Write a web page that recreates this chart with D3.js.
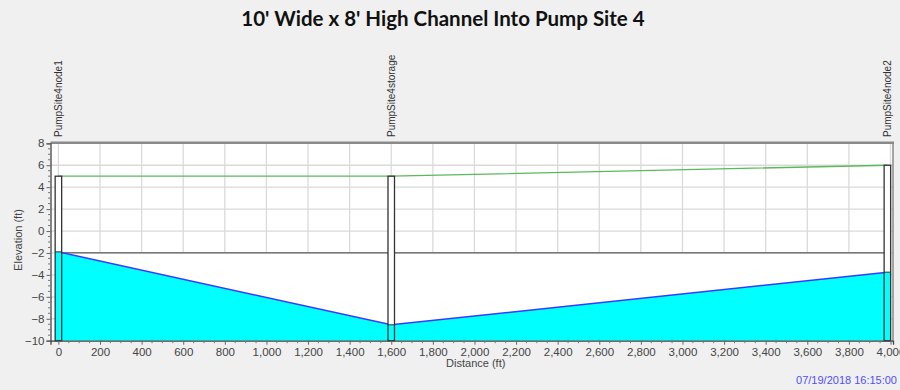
<!DOCTYPE html>
<html><head><meta charset="utf-8">
<script src="https://cdn.jsdelivr.net/npm/d3@7"></script>
<style>
html,body{margin:0;padding:0;background:#f0f0f0;}
svg{display:block;}
</style></head>
<body>
<svg id="c" width="900" height="390"></svg>
<script>
// ---- data ----
const title = "10' Wide x 8' High Channel Into Pump Site 4";
const nodeNames = ["PumpSite4node1", "PumpSite4storage", "PumpSite4node2"];
const nodeDist = [0, 1600, 3985];          // ft
const groundElev = [5.0, 5.0, 6.0];        // green line / node tops (ft)
const waterElev = [-1.9, -8.55, -3.75];    // blue line (ft)
const crownElev = [-2, -2, -2];            // dark horizontal line (ft)
const bottomElev = -10;
const xTicks = [0,200,400,600,800,1000,1200,1400,1600,1800,2000,2200,2400,2600,2800,3000,3200,3400,3600,3800,4000];
const yTicks = [-10,-8,-6,-4,-2,0,2,4,6,8];
const xLabel = "Distance (ft)";
const yLabel = "Elevation (ft)";
const stamp = "07/19/2018 16:15:00";

// ---- layout ----
const svg = d3.select("#c");
const L = 50.5, R = 893, T = 143.3, B = 340.7;
const x = d3.scaleLinear().domain([-38, 4012]).range([L, R]);
const y = d3.scaleLinear().domain([-10, 8]).range([B, T]);
const font = "'Liberation Sans', Arial, sans-serif";

svg.append("rect").attr("width",900).attr("height",390).attr("fill","#f0f0f0");

// title
svg.append("text").attr("x",443).attr("y",26).attr("text-anchor","middle")
  .attr("font-family","Lato, 'Open Sans', sans-serif").attr("font-weight","bold")
  .attr("font-size",20.5).attr("fill","#111").text(title);

// plot background
svg.append("rect").attr("x",L).attr("y",T).attr("width",R-L).attr("height",B-T).attr("fill","#ffffff");

// grid
const g = svg.append("g");
g.selectAll("line.gx").data(xTicks).join("line")
  .attr("x1",d=>x(d)).attr("x2",d=>x(d)).attr("y1",T).attr("y2",B)
  .attr("stroke","#dadada").attr("stroke-width",1.3);
g.selectAll("line.gy").data(yTicks).join("line")
  .attr("x1",L).attr("x2",R).attr("y1",d=>y(d)).attr("y2",d=>y(d))
  .attr("stroke","#dadada").attr("stroke-width",1.3);

// conduit interior (white) between crown and bottom
const idx = d3.range(nodeDist.length);
const interior = d3.area().x(i=>x(nodeDist[i])).y0(y(bottomElev)).y1(i=>y(crownElev[i]));
svg.append("path").datum(idx).attr("d",interior).attr("fill","#ffffff");

// water (cyan)
const water = d3.area().x(i=>x(nodeDist[i])).y0(y(bottomElev)).y1(i=>y(waterElev[i]));
svg.append("path").datum(idx).attr("d",water).attr("fill","#00ffff");

// crown line
const line = (arr)=>d3.line().x(i=>x(nodeDist[i])).y(i=>y(arr[i]));
svg.append("path").datum(idx).attr("d",line(crownElev)).attr("fill","none")
  .attr("stroke","#555").attr("stroke-width",1.3);
// green line
svg.append("path").datum(idx).attr("d",line(groundElev)).attr("fill","none")
  .attr("stroke","#5cb85c").attr("stroke-width",1.3);
// blue line
svg.append("path").datum(idx).attr("d",line(waterElev)).attr("fill","none")
  .attr("stroke","#3a3aff").attr("stroke-width",1.5);

// node boxes
const bw = 6.5;
const nodes = svg.append("g");
idx.forEach(i=>{
  const cx = x(nodeDist[i]);
  nodes.append("rect").attr("x",cx-bw/2).attr("y",y(groundElev[i])).attr("width",bw)
    .attr("height",y(bottomElev)-y(groundElev[i])).attr("fill","#ffffff");
  nodes.append("rect").attr("x",cx-bw/2).attr("y",y(waterElev[i])).attr("width",bw)
    .attr("height",y(bottomElev)-y(waterElev[i])).attr("fill","#00ffff");
  nodes.append("line").attr("x1",cx-bw/2).attr("x2",cx+bw/2).attr("y1",y(waterElev[i])).attr("y2",y(waterElev[i]))
    .attr("stroke","#333").attr("stroke-width",1);
  nodes.append("rect").attr("x",cx-bw/2).attr("y",y(groundElev[i])).attr("width",bw)
    .attr("height",y(bottomElev)-y(groundElev[i])).attr("fill","none")
    .attr("stroke","#333").attr("stroke-width",1.3);
  // node label
  svg.append("text").attr("transform",`translate(${cx+3.5},137) rotate(-90)`)
    .attr("font-family",font).attr("font-size",10).attr("fill","#333").text(nodeNames[i]);
});

// frame
svg.append("line").attr("x1",L).attr("x2",R+1).attr("y1",T-0.5).attr("y2",T-0.5).attr("stroke","#8a8a8a").attr("stroke-width",2.5);
svg.append("line").attr("x1",R).attr("x2",R).attr("y1",T).attr("y2",B).attr("stroke","#8a8a8a").attr("stroke-width",1.5);

// axes
const xAxis = d3.axisBottom(x).tickValues(xTicks).tickFormat(d3.format(",")).tickSize(4).tickPadding(3);
const xa = svg.append("g").attr("transform",`translate(0,${B})`).call(xAxis);
const yAxis = d3.axisLeft(y).tickValues(yTicks).tickFormat(d3.format("d")).tickSize(4).tickPadding(2);
const ya = svg.append("g").attr("transform",`translate(${L},0)`).call(yAxis);
[xa,ya].forEach(a=>{
  a.select(".domain").attr("stroke","#444").attr("stroke-width",1.3);
  a.selectAll(".tick line").attr("stroke","#666");
  a.selectAll("text").attr("font-family",font).attr("font-size",11.5).attr("fill","#444");
});
// minor ticks
const xMinor = d3.range(0, 4001, 50).filter(v=>v%200!==0);
svg.append("g").selectAll("line").data(xMinor).join("line")
  .attr("x1",d=>x(d)).attr("x2",d=>x(d)).attr("y1",B).attr("y2",B+2.5).attr("stroke","#777");
const yMinor = d3.range(-10, 8.01, 0.5).filter(v=>v%2!==0);
svg.append("g").selectAll("line").data(yMinor).join("line")
  .attr("x1",L-2.5).attr("x2",L).attr("y1",d=>y(d)).attr("y2",d=>y(d)).attr("stroke","#777");

// axis labels
svg.append("text").attr("x",(L+R)/2+4).attr("y",367).attr("text-anchor","middle")
  .attr("font-family",font).attr("font-size",11).attr("fill","#444").text(xLabel);
svg.append("text").attr("transform",`translate(22,240) rotate(-90)`).attr("text-anchor","middle")
  .attr("font-family",font).attr("font-size",11).attr("fill","#444").text(yLabel);

// timestamp
svg.append("text").attr("x",897).attr("y",384).attr("text-anchor","end")
  .attr("font-family",font).attr("font-size",11).attr("fill","#4f4fff").text(stamp);
</script>
</body></html>
